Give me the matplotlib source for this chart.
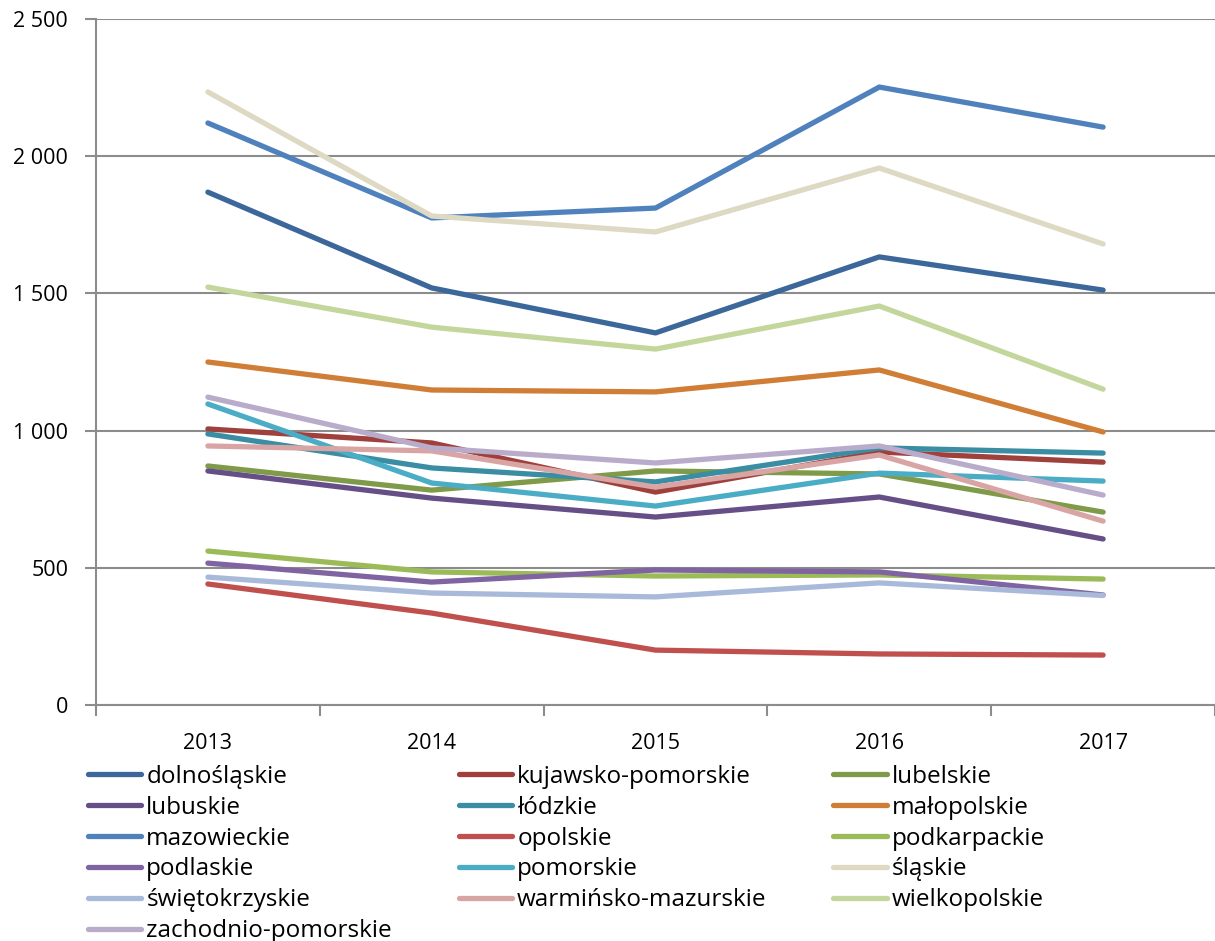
import matplotlib.pyplot as plt
from matplotlib.ticker import FuncFormatter, FixedLocator

plt.rcParams['font.family'] = ['Open Sans', 'DejaVu Sans']

years = ['2013', '2014', '2015', '2016', '2017']

regions = [
    'dolnośląskie', 'kujawsko-pomorskie', 'lubelskie', 'lubuskie', 'łódzkie',
    'małopolskie', 'mazowieckie', 'opolskie', 'podkarpackie', 'podlaskie',
    'pomorskie', 'śląskie', 'świętokrzyskie', 'warmińsko-mazurskie',
    'wielkopolskie', 'zachodnio-pomorskie',
]

dolnoslaskie = [1869, 1520, 1356, 1633, 1512]
kujawsko_pomorskie = [1006, 955, 776, 922, 885]
lubelskie = [871, 783, 853, 842, 703]
lubuskie = [853, 754, 685, 758, 605]
lodzkie = [988, 864, 813, 937, 918]
malopolskie = [1250, 1148, 1141, 1221, 995]
mazowieckie = [2121, 1775, 1811, 2252, 2106]
opolskie = [441, 335, 200, 186, 182]
podkarpackie = [561, 485, 470, 474, 459]
podlaskie = [517, 448, 492, 485, 401]
pomorskie = [1097, 809, 725, 845, 816]
slaskie = [2234, 1782, 1724, 1957, 1680]
swietokrzyskie = [466, 408, 394, 445, 399]
warminsko_mazurskie = [944, 926, 794, 911, 670]
wielkopolskie = [1523, 1377, 1297, 1454, 1151]
zachodnio_pomorskie = [1122, 937, 882, 944, 765]

series = [dolnoslaskie, kujawsko_pomorskie, lubelskie, lubuskie, lodzkie,
          malopolskie, mazowieckie, opolskie, podkarpackie, podlaskie,
          pomorskie, slaskie, swietokrzyskie, warminsko_mazurskie,
          wielkopolskie, zachodnio_pomorskie]

colors = ['#3C679A', '#A0403D', '#7F9A48', '#664E86', '#3A8DA3',
          '#D07D36', '#4F81BD', '#C0504D', '#9BBB59', '#8064A2',
          '#4BACC6', '#DDD9C3', '#A9B9DA', '#D9A5A4', '#C3D69B', '#B9ACCB']

fig = plt.figure(figsize=(12.15, 9.41), dpi=100)
ax = fig.add_axes([96 / 1215, (941 - 705) / 941, (1215 - 96) / 1215, (705 - 19) / 941])

x = list(range(len(years)))
handles = []
for name, vals, c in zip(regions, series, colors):
    h, = ax.plot(x, vals, color=c, lw=3.8, solid_capstyle='round',
                 solid_joinstyle='round', label=name)
    handles.append(h)

ax.set_xlim(-0.5, len(years) - 0.5)
ax.set_ylim(0, 2500)
ax.set_yticks(range(0, 2501, 500))
ax.yaxis.set_major_formatter(FuncFormatter(lambda v, p: f'{int(v):,}'.replace(',', ' ')))
ax.yaxis.grid(True, color='#8C8C8C', lw=1.5)
ax.set_axisbelow(True)

ax.set_xticks(x)
ax.set_xticklabels(years)
ax.xaxis.set_minor_locator(FixedLocator([i - 0.5 for i in range(len(years) + 1)]))
ax.tick_params(axis='x', which='major', length=0, pad=20, labelsize=15.5)
ax.tick_params(axis='x', which='minor', length=8, width=1.5, color='#8C8C8C', direction='out')
ax.tick_params(axis='y', length=8, width=1.5, color='#8C8C8C', pad=12, labelsize=15.5)

for s in ['top', 'right']:
    ax.spines[s].set_visible(False)
for s in ['left', 'bottom']:
    ax.spines[s].set_color('#8C8C8C')
    ax.spines[s].set_linewidth(1.5)

# legend is filled row by row, matplotlib fills columns
order = [0, 3, 6, 9, 12, 15, 1, 4, 7, 10, 13, 2, 5, 8, 11, 14]
fig.legend([handles[i] for i in order], [regions[i] for i in order],
           ncol=3, loc='upper left', bbox_to_anchor=(88 / 1215, 1 - 765 / 941),
           frameon=False, fontsize=17.5, handlelength=2.2, handletextpad=0.2,
           columnspacing=2.75, labelspacing=0.28, borderpad=0, borderaxespad=0)

fig.savefig('out.png', dpi=100)
